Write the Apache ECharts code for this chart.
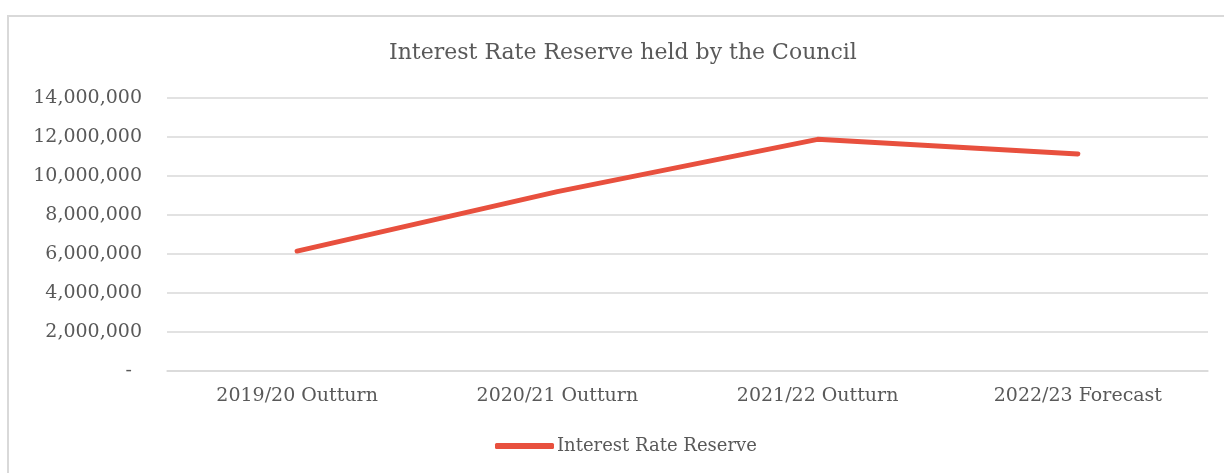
<!DOCTYPE html>
<html>
<head>
<meta charset="utf-8">
<title>Interest Rate Reserve held by the Council</title>
<script src="https://cdn.jsdelivr.net/npm/echarts@6/dist/echarts.min.js"></script>
<style>
  html, body { margin: 0; padding: 0; background: #ffffff; }
  #chart { width: 1224px; height: 473px; }
</style>
</head>
<body>
<div id="chart"></div>
<script>
// Reserve balance by year (GBP)
const categories = ['2019/20 Outturn', '2020/21 Outturn', '2021/22 Outturn', '2022/23 Forecast'];
const reserveValues = [6150000, 9200000, 11880000, 11130000];
const seriesName = 'Interest Rate Reserve';
const chartTitle = 'Interest Rate Reserve held by the Council';

const FONT = '"DejaVu Serif", "Liberation Serif", serif';
const TEXT = '#595959';
const GRID = '#d9d9d9';

function formatAmount(v) {
  if (v === 0) return '{dash|-}';
  return v.toLocaleString('en-GB');
}

const chart = echarts.init(document.getElementById('chart'), null, { renderer: 'canvas' });
chart.setOption({
  backgroundColor: '#ffffff',
  animation: false,
  graphic: [{
    type: 'rect',
    shape: { x: 8, y: 16, width: 1400, height: 600 },
    style: { fill: 'none', stroke: GRID, lineWidth: 2 },
    silent: true,
    z: -1
  }],
  title: {
    text: chartTitle,
    left: 384,
    top: 37,
    textStyle: { fontFamily: FONT, fontSize: 22, fontWeight: 'normal', color: TEXT }
  },
  legend: {
    left: 490,
    top: 432,
    icon: 'roundRect',
    itemWidth: 59,
    itemHeight: 6,
    textStyle: { fontFamily: FONT, fontSize: 18, color: TEXT, padding: [0, 0, 0, -2] },
    data: [seriesName]
  },
  grid: { left: 167, right: 16, top: 98, bottom: 102, containLabel: false },
  xAxis: {
    type: 'category',
    data: categories,
    boundaryGap: true,
    axisLine: { show: true, lineStyle: { color: GRID, width: 1.5 } },
    axisTick: { show: false },
    axisLabel: { margin: 16, fontFamily: FONT, fontSize: 19, color: TEXT }
  },
  yAxis: {
    type: 'value',
    min: 0,
    max: 14000000,
    interval: 2000000,
    axisLine: { show: false },
    axisTick: { show: false },
    splitLine: { lineStyle: { color: GRID, width: 1.5 } },
    axisLabel: {
      margin: 25,
      fontFamily: FONT,
      fontSize: 19,
      color: TEXT,
      formatter: formatAmount,
      rich: { dash: { fontFamily: FONT, fontSize: 19, color: TEXT, padding: [0, 10, 0, 0] } }
    }
  },
  series: [{
    name: seriesName,
    type: 'line',
    data: reserveValues,
    symbol: 'none',
    color: '#e8503e',
    lineStyle: { color: '#e8503e', width: 5, cap: 'round', join: 'round' }
  }]
});
</script>
</body>
</html>
